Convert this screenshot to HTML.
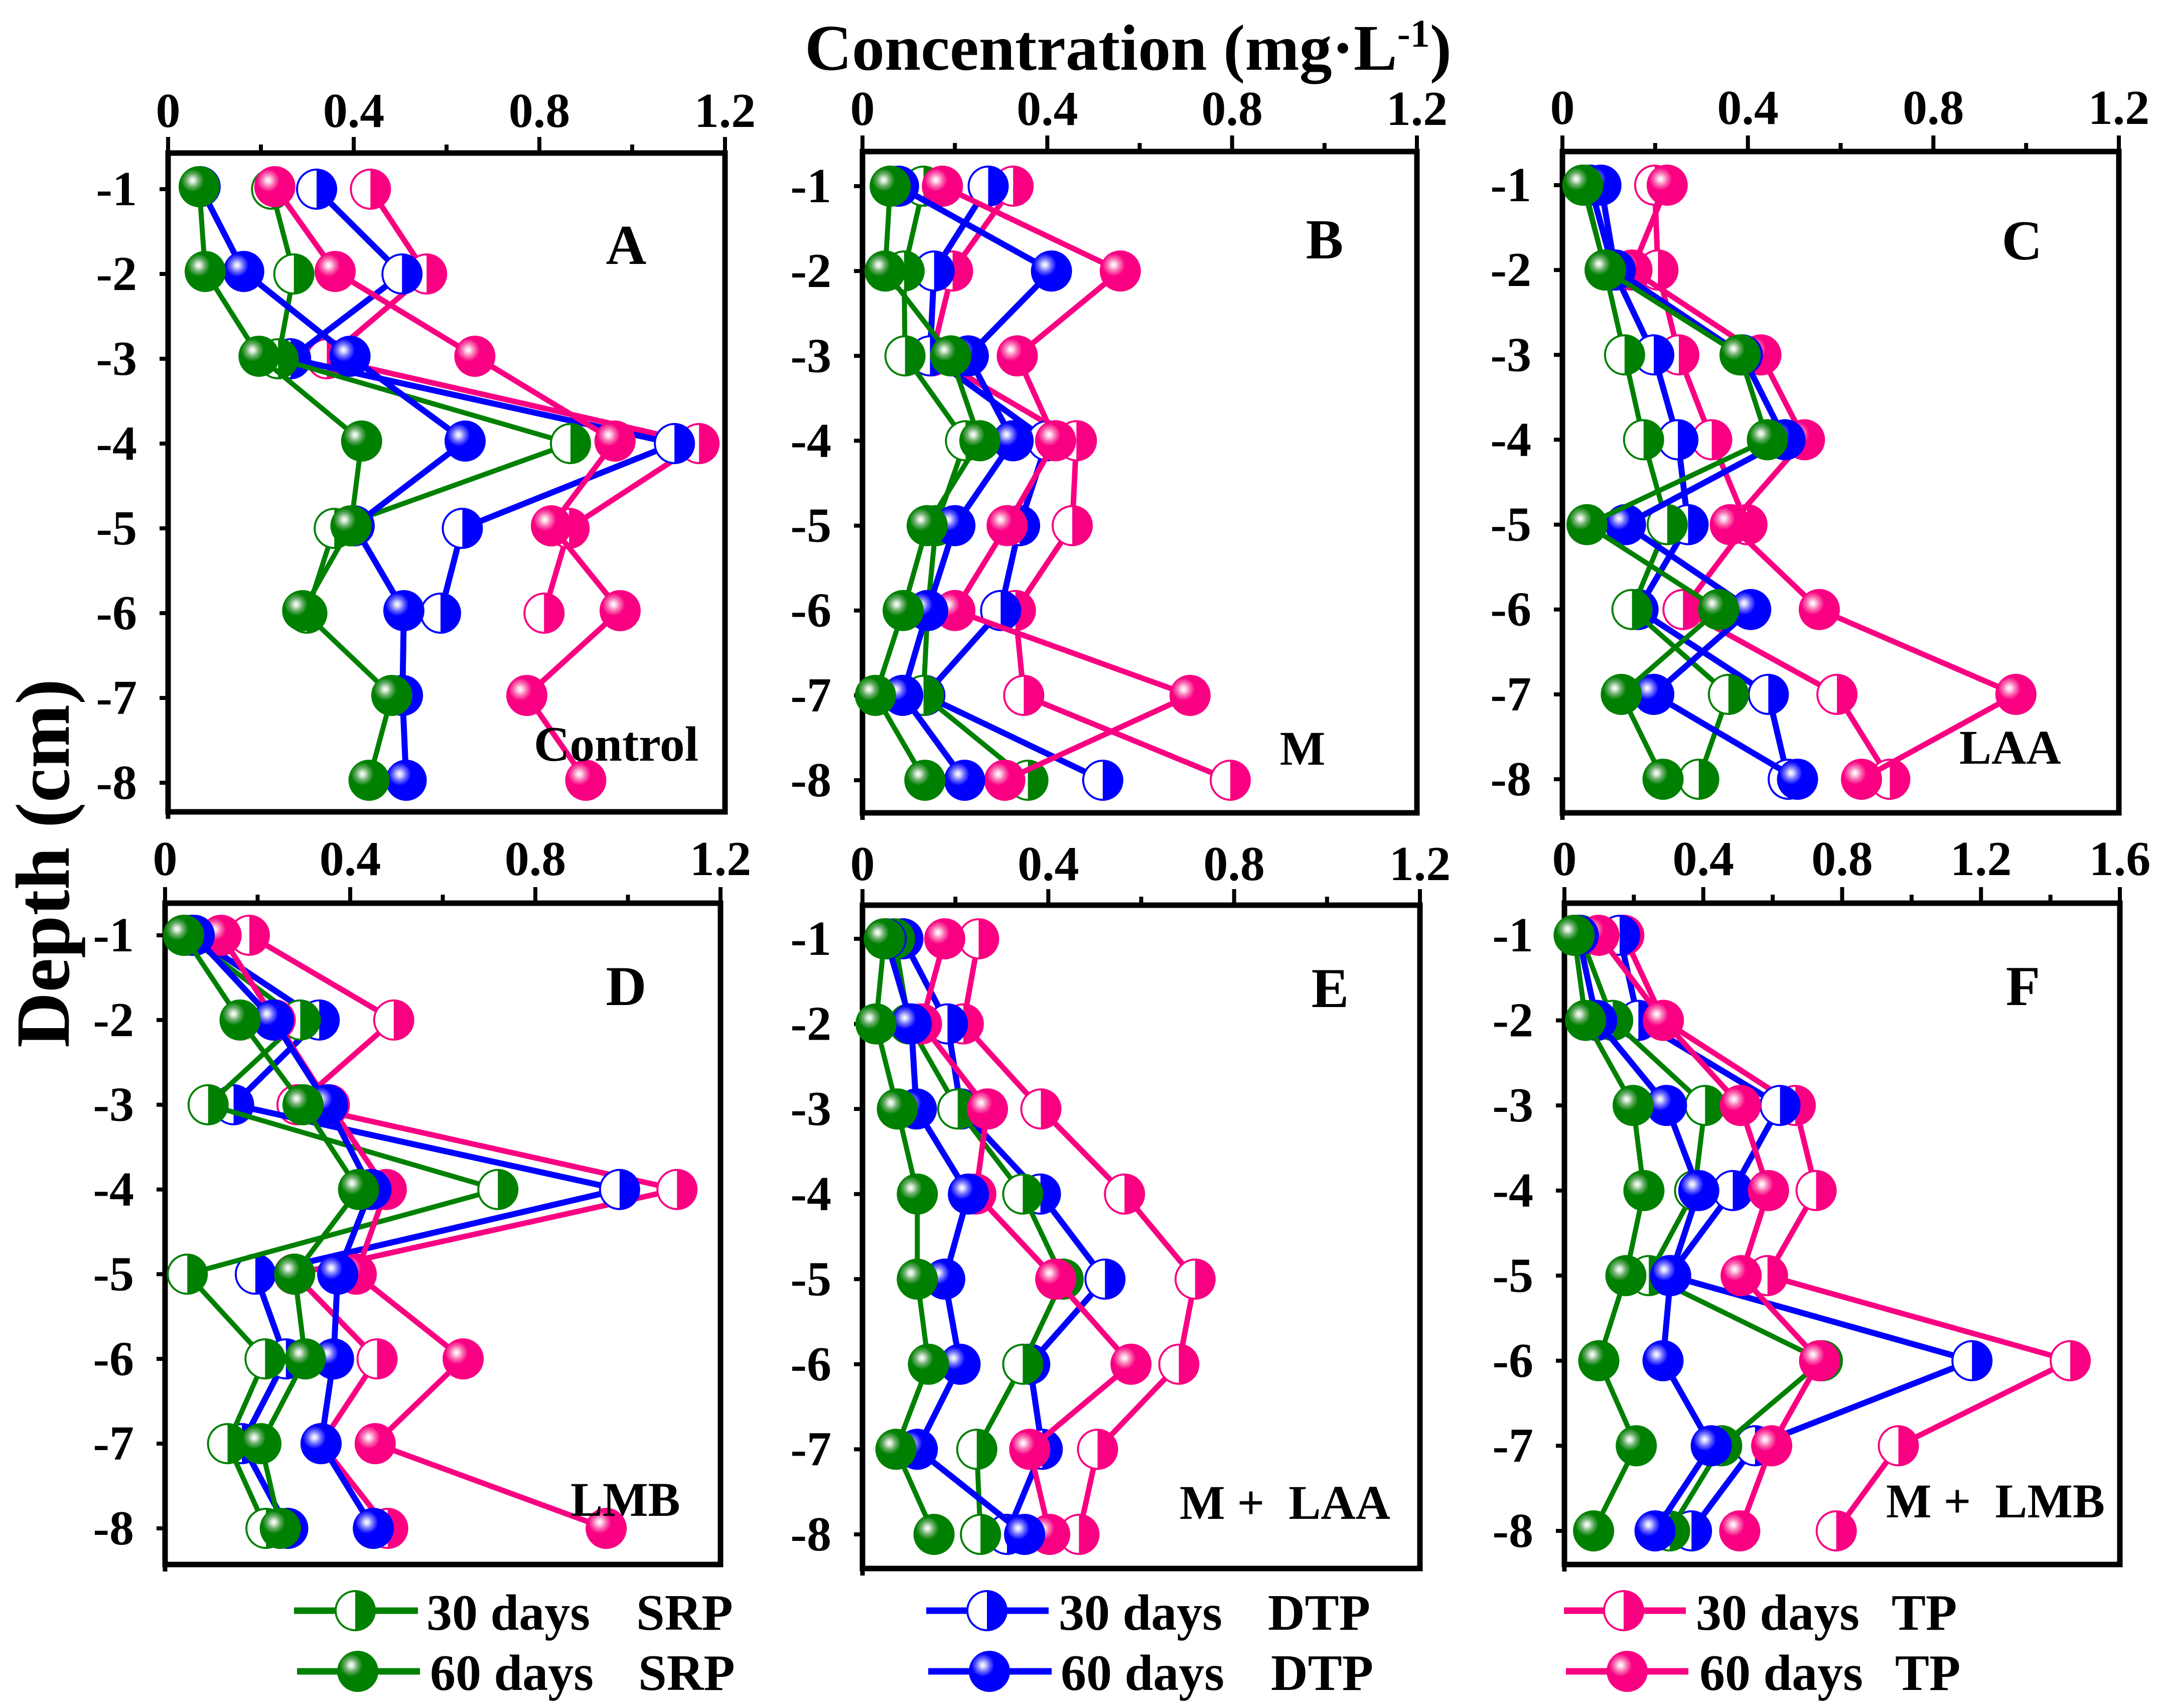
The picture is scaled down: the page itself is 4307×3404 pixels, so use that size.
<!DOCTYPE html>
<html lang="en">
<head>
<meta charset="utf-8">
<title>Concentration by depth</title>
<style>
html,body{margin:0;padding:0;background:#fff;}
svg{display:block;}
text{font-family:"Liberation Serif",serif;font-weight:bold;fill:#000;}
</style>
</head>
<body>
<svg id="chart" xmlns="http://www.w3.org/2000/svg" width="4307" height="3404" viewBox="0 0 4307 3404">
  <defs>
    <radialGradient id="ball-green" cx="0.34" cy="0.35" r="0.28">
      <stop offset="0" stop-color="#fff"/><stop offset="0.22" stop-color="#d5e8d5"/><stop offset="0.55" stop-color="#6aae6a"/><stop offset="1" stop-color="#008000"/>
    </radialGradient>
    <radialGradient id="ball-blue" cx="0.34" cy="0.35" r="0.28">
      <stop offset="0" stop-color="#fff"/><stop offset="0.22" stop-color="#d5d5ff"/><stop offset="0.55" stop-color="#7070ff"/><stop offset="1" stop-color="#0000ff"/>
    </radialGradient>
    <radialGradient id="ball-pink" cx="0.34" cy="0.35" r="0.28">
      <stop offset="0" stop-color="#fff"/><stop offset="0.22" stop-color="#fdd5e8"/><stop offset="0.55" stop-color="#fb70b4"/><stop offset="1" stop-color="#f90082"/>
    </radialGradient>
  </defs>
  <rect x="0" y="0" width="4307" height="3404" fill="#fff"/>
  <g id="plots"></g>

  <text x="1604" y="139" font-size="130">Concentration (mg·L<tspan font-size="78" dy="-46">-1</tspan><tspan dy="46">)</tspan></text>
  <text transform="translate(137,2088) rotate(-90)" x="0" y="0" font-size="153">Depth (cm)</text>

  <text x="1248" y="526" font-size="112" text-anchor="middle">A</text>
  <text x="2640" y="515" font-size="112" text-anchor="middle">B</text>
  <text x="4030" y="517" font-size="112" text-anchor="middle">C</text>
  <text x="1248" y="2003" font-size="112" text-anchor="middle">D</text>
  <text x="2651" y="2007" font-size="112" text-anchor="middle">E</text>
  <text x="4032" y="2003" font-size="112" text-anchor="middle">F</text>

  <text x="1064" y="1516" font-size="99">Control</text>
  <text x="2596" y="1524" font-size="96" text-anchor="middle">M</text>
  <text x="3905" y="1522" font-size="96">LAA</text>
  <text x="1137" y="3021" font-size="96">LMB</text>
  <text x="2351" y="3027" font-size="96" xml:space="preserve">M +  LAA</text>
  <text x="3759" y="3024" font-size="96" xml:space="preserve">M +  LMB</text>

  <g>
    <g>
      <line x1="586" y1="3210" x2="833" y2="3210" stroke="#008000" stroke-width="13"/>
      <circle cx="708" cy="3210" r="39" fill="#fff" stroke="#008000" stroke-width="4"/>
      <path d="M708,3171 A39,39 0 0 1 708,3249 Z" fill="#008000"/>
      <text x="850" y="3248" font-size="102">30 days</text>
      <text x="1268" y="3248" font-size="102">SRP</text>
    </g>
    <g>
      <line x1="592" y1="3331" x2="837" y2="3331" stroke="#008000" stroke-width="13"/>
      <circle cx="713" cy="3331" r="41" fill="url(#ball-green)"/>
      <text x="857" y="3368" font-size="102">60 days</text>
      <text x="1272" y="3368" font-size="102">SRP</text>
    </g>
    <g>
      <line x1="1846" y1="3210" x2="2090" y2="3210" stroke="#0000ff" stroke-width="13"/>
      <circle cx="1967" cy="3210" r="39" fill="#fff" stroke="#0000ff" stroke-width="4"/>
      <path d="M1967,3171 A39,39 0 0 1 1967,3249 Z" fill="#0000ff"/>
      <text x="2110" y="3248" font-size="102">30 days</text>
      <text x="2527" y="3248" font-size="102">DTP</text>
    </g>
    <g>
      <line x1="1850" y1="3331" x2="2096" y2="3331" stroke="#0000ff" stroke-width="13"/>
      <circle cx="1972" cy="3331" r="41" fill="url(#ball-blue)"/>
      <text x="2114" y="3368" font-size="102">60 days</text>
      <text x="2533" y="3368" font-size="102">DTP</text>
    </g>
    <g>
      <line x1="3117" y1="3210" x2="3360" y2="3210" stroke="#f90082" stroke-width="13"/>
      <circle cx="3236" cy="3210" r="39" fill="#fff" stroke="#f90082" stroke-width="4"/>
      <path d="M3236,3171 A39,39 0 0 1 3236,3249 Z" fill="#f90082"/>
      <text x="3380" y="3248" font-size="102">30 days</text>
      <text x="3770" y="3248" font-size="102">TP</text>
    </g>
    <g>
      <line x1="3121" y1="3331" x2="3365" y2="3331" stroke="#f90082" stroke-width="13"/>
      <circle cx="3243" cy="3331" r="41" fill="url(#ball-pink)"/>
      <text x="3387" y="3368" font-size="102">60 days</text>
      <text x="3777" y="3368" font-size="102">TP</text>
    </g>
  </g>
</svg>

<script>
// ---------- data ----------
const depths = [-1, -2, -3, -4, -5, -6, -7, -8];
const xTicks12 = ["0", "0.4", "0.8", "1.2"];
const xTicks16 = ["0", "0.4", "0.8", "1.2", "1.6"];

const A_SRP30 = [0.223, 0.271, 0.237, 0.867, 0.358, 0.299];
const A_DTP30 = [0.320, 0.504, 0.264, 1.091, 0.634, 0.587];
const A_TP30  = [0.436, 0.557, 0.342, 1.144, 0.864, 0.810];
const A_SRP60 = [0.067, 0.080, 0.196, 0.417, 0.394, 0.290, 0.482, 0.433];
const A_DTP60 = [0.069, 0.163, 0.392, 0.640, 0.401, 0.508, 0.505, 0.513];
const A_TP60  = [0.230, 0.360, 0.661, 0.963, 0.826, 0.974, 0.773, 0.900];

const B_SRP30 = [0.132, 0.090, 0.092, 0.223, 0.159, 0.141, 0.132, 0.358];
const B_DTP30 = [0.272, 0.155, 0.146, 0.400, 0.340, 0.299, 0.135, 0.520];
const B_TP30  = [0.326, 0.195, 0.150, 0.463, 0.454, 0.331, 0.349, 0.796];
const B_SRP60 = [0.060, 0.049, 0.191, 0.254, 0.140, 0.088, 0.028, 0.135];
const B_DTP60 = [0.078, 0.409, 0.229, 0.326, 0.200, 0.141, 0.087, 0.221];
const B_TP60  = [0.173, 0.558, 0.335, 0.418, 0.313, 0.200, 0.709, 0.308];

const C_SRP30 = [0.047, 0.092, 0.134, 0.175, 0.226, 0.150, 0.358, 0.294];
const C_DTP30 = [0.060, 0.110, 0.197, 0.249, 0.271, 0.163, 0.444, 0.487];
const C_TP30  = [0.199, 0.206, 0.251, 0.322, 0.398, 0.260, 0.592, 0.706];
const C_SRP60 = [0.044, 0.093, 0.383, 0.442, 0.053, 0.337, 0.127, 0.217];
const C_DTP60 = [0.083, 0.114, 0.388, 0.480, 0.136, 0.406, 0.197, 0.507];
const C_TP60  = [0.226, 0.150, 0.428, 0.522, 0.362, 0.554, 0.978, 0.645];

const D_SRP30 = [0.045, 0.292, 0.093, 0.719, 0.048, 0.216, 0.135, 0.218];
const D_DTP30 = [0.058, 0.333, 0.148, 0.982, 0.195, 0.261, 0.166, 0.265];
const D_TP30  = [0.182, 0.494, 0.285, 1.106, 0.279, 0.458, 0.337, 0.481];
const D_SRP60 = [0.040, 0.162, 0.298, 0.418, 0.280, 0.303, 0.207, 0.249];
const D_DTP60 = [0.063, 0.234, 0.351, 0.445, 0.373, 0.364, 0.337, 0.450];
const D_TP60  = [0.121, 0.238, 0.355, 0.478, 0.413, 0.644, 0.454, 0.953];

const E_SRP30 = [0.069, 0.100, 0.205, 0.345, 0.432, 0.345, 0.246, 0.254];
const E_DTP30 = [0.087, 0.183, 0.212, 0.383, 0.522, 0.360, 0.387, 0.311];
const E_TP30  = [0.250, 0.217, 0.384, 0.564, 0.716, 0.681, 0.506, 0.466];
const E_SRP60 = [0.047, 0.029, 0.075, 0.118, 0.118, 0.142, 0.072, 0.154];
const E_DTP60 = [0.051, 0.105, 0.116, 0.228, 0.177, 0.210, 0.118, 0.349];
const E_TP60  = [0.177, 0.127, 0.269, 0.244, 0.416, 0.578, 0.360, 0.403];

const F_SRP30 = [0.046, 0.139, 0.405, 0.375, 0.243, 0.743, 0.453, 0.303];
const F_DTP30 = [0.159, 0.213, 0.621, 0.485, 0.303, 1.174, 0.549, 0.366];
const F_TP30  = [0.171, 0.285, 0.665, 0.725, 0.585, 1.457, 0.962, 0.783];
const F_SRP60 = [0.028, 0.061, 0.198, 0.229, 0.177, 0.099, 0.207, 0.084];
const F_DTP60 = [0.040, 0.093, 0.294, 0.387, 0.306, 0.284, 0.423, 0.261];
const F_TP60  = [0.099, 0.285, 0.507, 0.588, 0.509, 0.735, 0.597, 0.505];

// ---------- layout ----------
const seriesStyles = [
  {name: "tp-30-days",  color: "#f90082", width: 11, half: true,  ball: "ball-pink"},
  {name: "dtp-30-days", color: "#0000ff", width: 12, half: true,  ball: "ball-blue"},
  {name: "srp-30-days", color: "#008000", width: 10, half: true,  ball: "ball-green"},
  {name: "tp-60-days",  color: "#f90082", width: 11, half: false, ball: "ball-pink"},
  {name: "dtp-60-days", color: "#0000ff", width: 12, half: false, ball: "ball-blue"},
  {name: "srp-60-days", color: "#008000", width: 10, half: false, ball: "ball-green"}
];

const panels = [
  {id: "a", left: 335,  right: 1445, top: 305,  bottom: 1618, y1: 377,  y8: 1560, solidShift: -5, labelY: 253,  xMax: 1.2, ticks: xTicks12,
   series: [A_TP30, A_DTP30, A_SRP30, A_TP60, A_DTP60, A_SRP60]},
  {id: "b", left: 1719, right: 2824, top: 302,  bottom: 1620, y1: 371,  y8: 1555, solidShift: 0,  labelY: 249,  xMax: 1.2, ticks: xTicks12,
   series: [B_TP30, B_DTP30, B_SRP30, B_TP60, B_DTP60, B_SRP60]},
  {id: "c", left: 3114, right: 4223, top: 302,  bottom: 1620, y1: 369,  y8: 1553, solidShift: 0,  labelY: 247,  xMax: 1.2, ticks: xTicks12,
   series: [C_TP30, C_DTP30, C_SRP30, C_TP60, C_DTP60, C_SRP60]},
  {id: "d", left: 329,  right: 1436, top: 1800, bottom: 3118, y1: 1864, y8: 3046, solidShift: 0,  labelY: 1744, xMax: 1.2, ticks: xTicks12,
   series: [D_TP30, D_DTP30, D_SRP30, D_TP60, D_DTP60, D_SRP60]},
  {id: "e", left: 1719, right: 2830, top: 1804, bottom: 3126, y1: 1871, y8: 3058, solidShift: 0,  labelY: 1754, xMax: 1.2, ticks: xTicks12,
   series: [E_TP30, E_DTP30, E_SRP30, E_TP60, E_DTP60, E_SRP60]},
  {id: "f", left: 3118, right: 4225, top: 1800, bottom: 3118, y1: 1864, y8: 3051, solidShift: 0,  labelY: 1744, xMax: 1.6, ticks: xTicks16,
   series: [F_TP30, F_DTP30, F_SRP30, F_TP60, F_DTP60, F_SRP60]}
];

// ---------- drawing ----------
const SVG_NS = "http://www.w3.org/2000/svg";
const plots = document.getElementById("plots");

function make(tag, attrs, parent) {
  const node = document.createElementNS(SVG_NS, tag);
  for (const k in attrs) node.setAttribute(k, attrs[k]);
  parent.appendChild(node);
  return node;
}
function xScale(p, v) { return p.left + (v / p.xMax) * (p.right - p.left); }
function yScale(p, d) { return p.y1 + ((-1 - d) / 7) * (p.y8 - p.y1); }

panels.forEach(function (p) {
  const g = make("g", {}, plots);
  
  

  const frame = make("rect", {x: p.left, y: p.top, width: p.right - p.left, height: p.bottom - p.top, fill: "none", stroke: "#000", "stroke-width": 11}, g);
  
  

  const yAxisTail = make("line", {x1: p.left, x2: p.left, y1: p.bottom, y2: p.bottom + 14, stroke: "#000", "stroke-width": 9}, g);
  
  

  // x-axis ticks and labels (major at each label, one minor between)
  p.ticks.forEach(function (label, i) {
    const v = Number(label);
    const tx = xScale(p, v);
    const major = make("line", {x1: tx, x2: tx, y1: p.top, y2: p.top - 32, stroke: "#000", "stroke-width": 8}, g);
    
    
    const t = make("text", {x: tx, y: p.labelY, "font-size": 98, "text-anchor": "middle"}, g);
    t.textContent = label;
    
    
    if (i < p.ticks.length - 1) {
      const mx = xScale(p, (v + Number(p.ticks[i + 1])) / 2);
      const minor = make("line", {x1: mx, x2: mx, y1: p.top, y2: p.top - 17, stroke: "#000", "stroke-width": 8}, g);
      
      
    }
  });

  // y-axis ticks and labels
  depths.forEach(function (d) {
    const ty = yScale(p, d);
    const tick = make("line", {x1: p.left, x2: p.left - 17, y1: ty, y2: ty, stroke: "#000", "stroke-width": 8}, g);
    
    
    const t = make("text", {x: p.left - 62, y: ty + 32, "font-size": 98, "text-anchor": "end"}, g);
    t.textContent = String(d);
    
    
  });

  // series: line first, then markers, later series on top
  p.series.forEach(function (values, s) {
    const st = seriesStyles[s];
    const sg = make("g", {}, g);
    
    
    const shift = st.half ? 0 : p.solidShift;
    const pts = values.map(function (v, i) {
      return [xScale(p, v), yScale(p, depths[i]) + shift];
    });
    const line = make("polyline", {points: pts.map(function (q) { return q.join(","); }).join(" "), fill: "none", stroke: st.color, "stroke-width": st.width, "stroke-linejoin": "round"}, sg);
    
    
    pts.forEach(function (q) {
      if (st.half) {
        const c = make("circle", {cx: q[0], cy: q[1], r: 39, fill: "#fff", stroke: st.color, "stroke-width": 4}, sg);
        
        
        const h = make("path", {d: "M" + q[0] + "," + (q[1] - 39) + " A39,39 0 0 1 " + q[0] + "," + (q[1] + 39) + " Z", fill: st.color}, sg);
        
        
      } else {
        const c = make("circle", {cx: q[0], cy: q[1], r: 41, fill: "url(#" + st.ball + ")"}, sg);
        
        
      }
    });
  });
});
</script>
</body>
</html>
